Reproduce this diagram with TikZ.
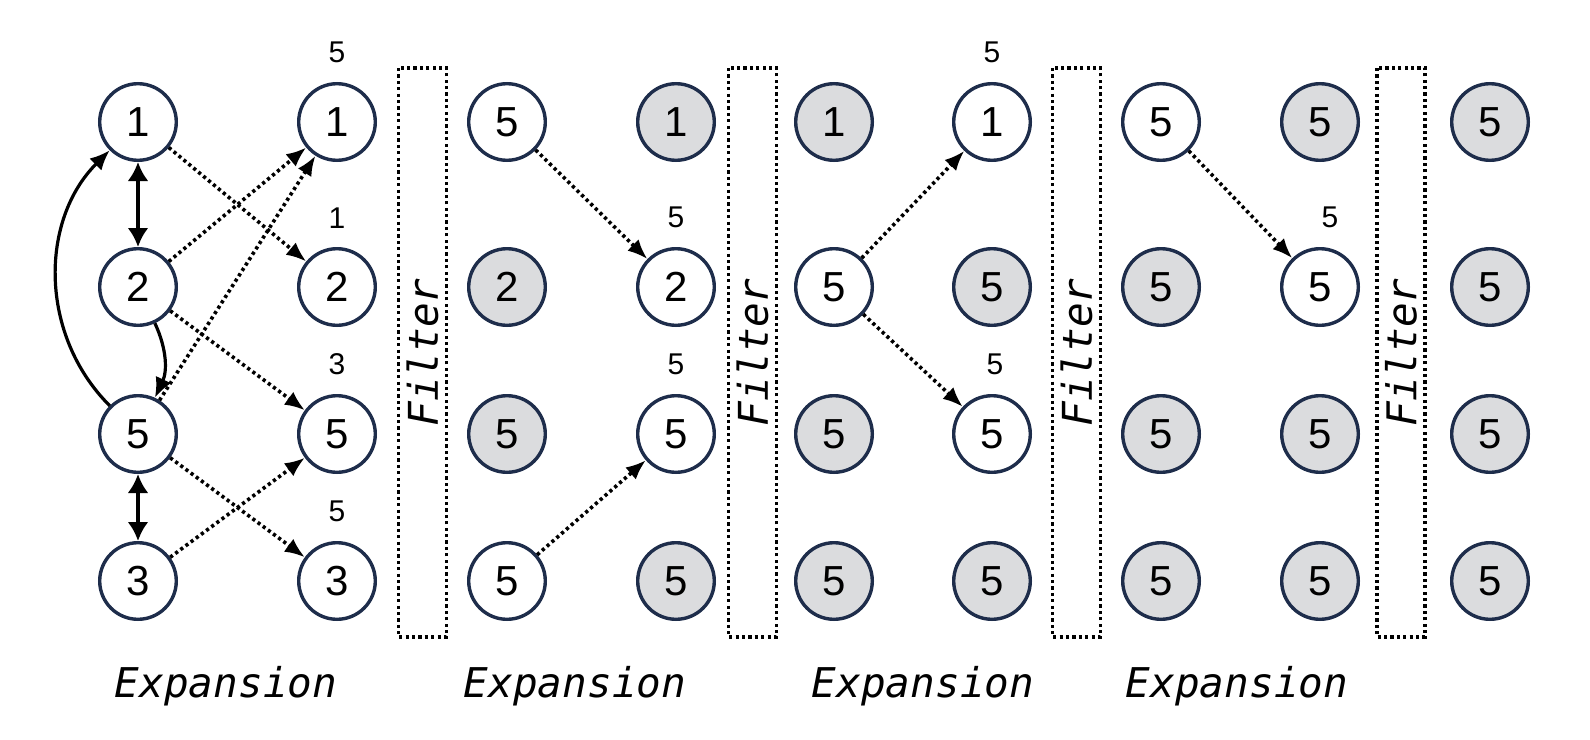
\documentclass[tikz,border=0pt]{standalone}
\usepackage{fontspec}
\setmainfont{Liberation Sans}
\newfontfamily\codefont{DejaVu Sans Mono}
\usepackage{tikz}
\usetikzlibrary{positioning, arrows.meta}
\definecolor{NodeBlue}{RGB}{30,45,75}
\definecolor{DoneGray}{RGB}{219,220,222}

\begin{document}
\begin{tikzpicture}[x=0.5pt, y=0.5pt,
    vtx/.style={circle, draw=NodeBlue, line width=1.7pt, fill=white, minimum size=38.3pt, inner sep=0pt, font=\fontsize{21}{24}\selectfont},
    done/.style={vtx, fill=DoneGray},
    hint/.style={inner sep=0pt, outer sep=0pt, font=\fontsize{15}{17}\selectfont},
    hop/.style={line width=1.8pt, dash pattern=on 1.6pt off 1.6pt, -{Latex[length=10pt, width=8pt]}},
    link/.style={line width=2.1pt, {Latex[length=9.5pt, width=10.5pt]}-{Latex[length=9.5pt, width=10.5pt]}},
    jump/.style={line width=1.6pt, -{Latex[length=10pt, width=8.5pt]}},
    filterbox/.style={draw, line width=1.8pt, dash pattern=on 1.6pt off 1.6pt, rotate=90, minimum width=284.5pt, minimum height=24pt, inner sep=0pt, font=\codefont\itshape\fontsize{20.5}{24}\selectfont},
    tag/.style={anchor=base, font=\codefont\itshape\fontsize{20.5}{24}\selectfont}]
    \useasboundingbox (0,0) rectangle (1590,-739);
    \def\rowA{-122} \def\rowB{-287} \def\rowC{-434} \def\rowD{-581}
    % Column 1 (input graph)
    \node[vtx] (c1a) at (138,\rowA) {1};
    \node[vtx] (c1b) at (138,\rowB) {2};
    \node[vtx] (c1c) at (138,\rowC) {5};
    \node[vtx] (c1d) at (138,\rowD) {3};
    % Column 2
    \node[vtx] (c2a) at (337,\rowA) {1};
    \node[vtx] (c2b) at (337,\rowB) {2};
    \node[vtx] (c2c) at (337,\rowC) {5};
    \node[vtx] (c2d) at (337,\rowD) {3};
    % Column 3
    \node[vtx] (c3a) at (507,\rowA) {5};
    \node[done] (c3b) at (507,\rowB) {2};
    \node[done] (c3c) at (507,\rowC) {5};
    \node[vtx] (c3d) at (507,\rowD) {5};
    % Column 4
    \node[done] (c4a) at (676,\rowA) {1};
    \node[vtx] (c4b) at (676,\rowB) {2};
    \node[vtx] (c4c) at (676,\rowC) {5};
    \node[done] (c4d) at (676,\rowD) {5};
    % Column 5
    \node[done] (c5a) at (834,\rowA) {1};
    \node[vtx] (c5b) at (834,\rowB) {5};
    \node[done] (c5c) at (834,\rowC) {5};
    \node[done] (c5d) at (834,\rowD) {5};
    % Column 6
    \node[vtx] (c6a) at (992,\rowA) {1};
    \node[done] (c6b) at (992,\rowB) {5};
    \node[vtx] (c6c) at (992,\rowC) {5};
    \node[done] (c6d) at (992,\rowD) {5};
    % Column 7
    \node[vtx] (c7a) at (1161,\rowA) {5};
    \node[done] (c7b) at (1161,\rowB) {5};
    \node[done] (c7c) at (1161,\rowC) {5};
    \node[done] (c7d) at (1161,\rowD) {5};
    % Column 8
    \node[done] (c8a) at (1320,\rowA) {5};
    \node[vtx] (c8b) at (1320,\rowB) {5};
    \node[done] (c8c) at (1320,\rowC) {5};
    \node[done] (c8d) at (1320,\rowD) {5};
    % Column 9
    \node[done] (c9a) at (1490,\rowA) {5};
    \node[done] (c9b) at (1490,\rowB) {5};
    \node[done] (c9c) at (1490,\rowC) {5};
    \node[done] (c9d) at (1490,\rowD) {5};
    % Incoming values
    \node[hint, above=9.5pt of c2a] (h2a) {5};
    \node[hint, above=9.5pt of c2b] (h2b) {1};
    \node[hint, above=9.5pt of c2c] (h2c) {3};
    \node[hint, above=9.5pt of c2d] (h2d) {5};
    \node[hint, above=9.5pt of c4b] (h4b) {5};
    \node[hint, above=9.5pt of c4c] (h4c) {5};
    \node[hint, above=9.5pt of c6a] (h6a) {5};
    \node[hint, above=9.5pt of c6c, xshift=1.5pt] (h6c) {5};
    \node[hint, above=9.5pt of c8b, xshift=5pt] (h8b) {5};
    % Filters
    \node[filterbox] (f1) at (422.5,-352.5) {Filter};
    \node[filterbox] (f2) at (752.5,-352.5) {Filter};
    \node[filterbox] (f3) at (1076.5,-352.5) {Filter};
    \node[filterbox] (f4) at (1401,-352.5) {Filter};
    % Captions
    \node[tag] (e1) at (226,-697) {Expansion};
    \node[tag] (e2) at (575,-697) {Expansion};
    \node[tag] (e3) at (923,-697) {Expansion};
    \node[tag] (e4) at (1237,-697) {Expansion};
    % Graph edges
    \draw[link] (c1a) -- (c1b);
    \draw[link] (c1c) -- (c1d);
    \draw[jump] (c1c) to[bend left=45] (c1a);
    \draw[jump] (c1b) to[bend left=25] (c1c);
    % Messages
    \draw[hop] (c1a) -- (c2b);
    \draw[hop] (c1b) -- (c2a);
    \draw[hop] (c1c) -- (c2a);
    \draw[hop] (c1b) -- (c2c);
    \draw[hop] (c1c) -- (c2d);
    \draw[hop] (c1d) -- (c2c);
    \draw[hop] (c3a) -- (c4b);
    \draw[hop] (c3d) -- (c4c);
    \draw[hop] (c5b) -- (c6a);
    \draw[hop] (c5b) -- (c6c);
    \draw[hop] (c7a) -- (c8b);
\end{tikzpicture}
\end{document}
